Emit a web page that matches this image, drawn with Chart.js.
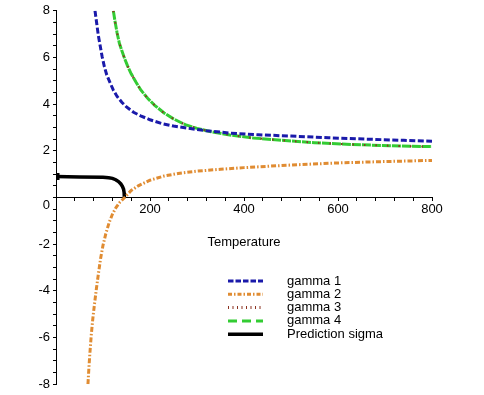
<!DOCTYPE html>
<html>
<head>
<meta charset="utf-8">
<script src="https://cdn.jsdelivr.net/npm/chart.js@4"></script>
<style>
  html, body { margin: 0; padding: 0; background: #fff; }
  #wrap { width: 484px; height: 395px; }
</style>
</head>
<body>
<div id="wrap"><canvas id="chart" width="484" height="395"></canvas></div>
<script>
"use strict";

// temperatures (x) and values
const T1 = [83, 87, 90, 94, 98, 103, 108, 115, 122, 130, 140, 150, 165, 180, 200, 225, 250, 280, 320, 370, 430, 500, 580, 660, 740, 800];
const gamma1 = [8.0, 7.4, 6.95, 6.5, 6.05, 5.6, 5.25, 4.92, 4.6, 4.33, 4.08, 3.88, 3.65, 3.5, 3.33, 3.17, 3.06, 2.97, 2.86, 2.76, 2.69, 2.63, 2.56, 2.5, 2.45, 2.41];

const T2 = [68, 70, 72, 75, 78, 82, 86, 90, 95, 100, 106, 113, 120, 128, 136, 146, 160, 175, 200, 230, 260, 300, 350, 400, 470, 540, 610, 700, 800];
const gamma2 = [-8.0, -7.3, -6.7, -5.9, -5.25, -4.55, -3.9, -3.3, -2.6, -2.05, -1.55, -1.08, -0.72, -0.42, -0.2, 0.0, 0.3, 0.5, 0.74, 0.92, 1.03, 1.13, 1.21, 1.28, 1.36, 1.43, 1.49, 1.54, 1.59];

const T3 = [122, 126, 130, 135, 140, 146, 152, 160, 170, 180, 195, 210, 230, 250, 275, 300, 330, 370, 420, 480, 550, 630, 710, 800];
const gamma3 = [8.0, 7.5, 7.05, 6.6, 6.3, 5.95, 5.65, 5.3, 4.95, 4.62, 4.25, 3.95, 3.62, 3.37, 3.12, 2.96, 2.82, 2.68, 2.55, 2.45, 2.35, 2.27, 2.22, 2.18];

const T4 = [122, 126, 130, 135, 140, 146, 152, 160, 170, 180, 195, 210, 230, 250, 275, 300, 330, 370, 420, 480, 550, 630, 710, 800];
const gamma4 = [8.0, 7.5, 7.05, 6.6, 6.3, 5.95, 5.65, 5.3, 4.95, 4.62, 4.25, 3.95, 3.62, 3.37, 3.12, 2.96, 2.82, 2.68, 2.55, 2.45, 2.35, 2.27, 2.22, 2.18];

const TS = [0, 50, 100, 112, 120, 127, 133, 138, 141.5, 143.8, 145, 145.4];
const sigma = [0.9, 0.88, 0.87, 0.85, 0.82, 0.76, 0.68, 0.58, 0.47, 0.35, 0.2, 0];

const labels = ["gamma 1", "gamma 2", "gamma 3", "gamma 4", "Prediction sigma"];

const FONT = { family: "'Liberation Sans', Arial, sans-serif", size: 13 };
const xy = (xs, ys) => xs.map((x, i) => ({ x, y: ys[i] }));

// legend drawn as one column inside the plot, like the original
const legendBox = {
  id: "legendBox",
  afterDraw(chart, args, o) {
    const ctx = chart.ctx;
    ctx.save();
    ctx.font = FONT.size + "px " + FONT.family;
    ctx.textBaseline = "middle";
    chart.data.datasets.forEach((ds, i) => {
      const y = o.y + i * o.rowH;
      ctx.strokeStyle = ds.borderColor;
      ctx.lineWidth = ds.legendWidth || ds.borderWidth;
      ctx.setLineDash(ds.legendDash || ds.borderDash || []);
      ctx.beginPath();
      ctx.moveTo(o.x, y);
      ctx.lineTo(o.x + o.lineW, y);
      ctx.stroke();
      ctx.setLineDash([]);
      ctx.fillStyle = "#000";
      ctx.fillText(ds.label, o.x + o.textGap, y);
    });
    ctx.restore();
  },
};

const line = (label, data, color, width, dash, extra) =>
  Object.assign({ label, data, borderColor: color, backgroundColor: color, borderWidth: width, borderDash: dash, pointRadius: 0, fill: false }, extra || {});

new Chart(document.getElementById("chart"), {
  type: "line",
  data: {
    datasets: [
      line(labels[0], xy(T1, gamma1), "#1a1aaa", 3, [6, 2.5], { legendDash: [5.5, 2] }),
      line(labels[1], xy(T2, gamma2), "#e08c32", 3, [5, 2, 1.5, 2], { legendDash: [4, 2, 1.5, 2] }),
      line(labels[2], xy(T3, gamma3), "#8c3220", 2, [1.5, 10], { legendDash: [1, 3.5], legendWidth: 3 }),
      line(labels[3], xy(T4, gamma4), "#33cc33", 3, [9, 1], { legendDash: [9, 5] }),
      line(labels[4], xy(TS, sigma), "#000000", 3.5, [], {
        pointStyle: "rect",
        pointRadius: (c) => (c.dataIndex === 0 ? 2.5 : 0),
      }),
    ],
  },
  options: {
    responsive: false,
    animation: false,
    layout: { padding: { top: 9, right: 52, left: 0, bottom: 0 } },
    plugins: {
      legend: { display: false },
      tooltip: { enabled: false },
      legendBox: { x: 228, y: 281, rowH: 13.3, lineW: 35, textGap: 59 },
    },
    scales: {
      x: {
        type: "linear",
        position: { y: 0 },
        min: 0,
        max: 800,
        afterFit: (s) => { s.height = 13; },
        ticks: {
          stepSize: 40,
          autoSkip: false,
          maxRotation: 0,
          minRotation: 0,
          padding: 1,
          color: "#000",
          font: FONT,
          callback: (v) => (v > 0 && v % 200 === 0 ? String(v) : ""),
        },
        grid: { drawOnChartArea: false, drawTicks: true, tickLength: 3, color: "#000" },
        border: { display: true, color: "#000", width: 1 },
        title: { display: true, text: "Temperature", color: "#000", font: FONT, padding: { top: 0, bottom: -40 } },
      },
      y: {
        type: "linear",
        position: "left",
        min: -8,
        max: 8,
        afterFit: (s) => { s.width = 56; },
        ticks: {
          stepSize: 0.5,
          autoSkip: false,
          padding: 3,
          color: "#000",
          font: FONT,
          callback: (v) => (v % 2 !== 0 ? "" : v === 0 ? ["", "0"] : String(v)),
        },
        grid: { drawOnChartArea: false, drawTicks: true, tickLength: 3, color: "#000" },
        border: { display: true, color: "#000", width: 1 },
      },
    },
  },
  plugins: [legendBox],
});
</script>
</body>
</html>
